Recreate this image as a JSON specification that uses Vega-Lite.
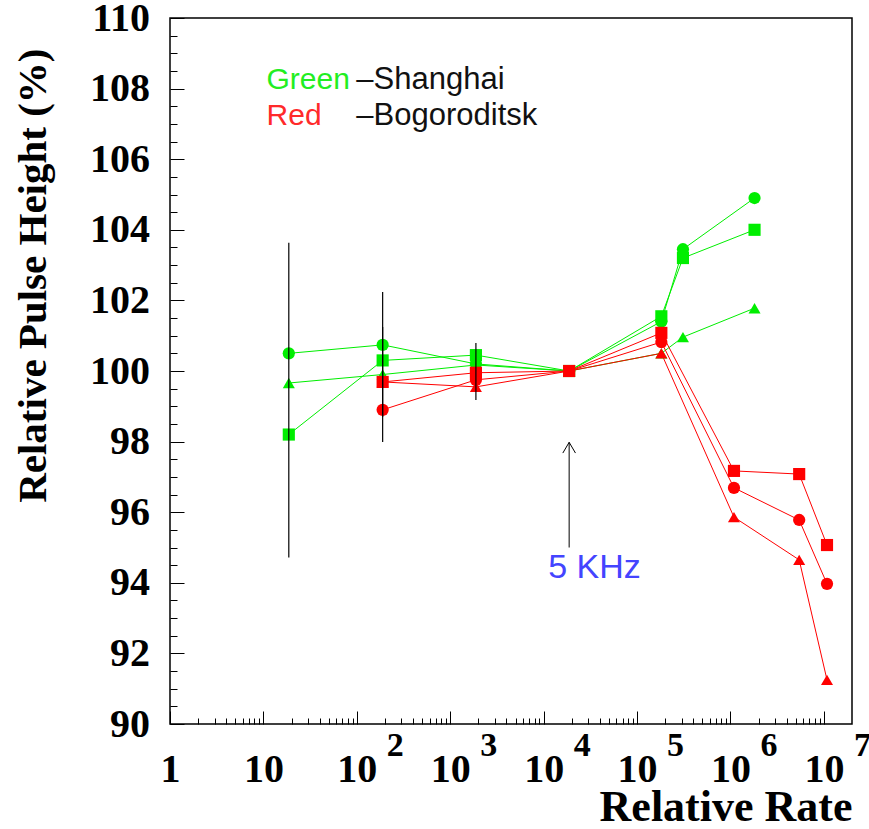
{
  "$schema": "https://vega.github.io/schema/vega-lite/v6.json",
  "width": 682,
  "height": 706,
  "autosize": {"type": "none"},
  "padding": {"left": 170, "top": 18, "right": 17, "bottom": 105},
  "background": "white",
  "config": {
    "view": {"stroke": "black", "strokeWidth": 1.5},
    "axis": {
      "domain": false, "grid": false,
      "labelFont": "Liberation Serif", "labelFontWeight": "bold", "labelFontSize": 40, "labelColor": "black",
      "tickColor": "black", "tickWidth": 1,
      "titleFont": "Liberation Serif", "titleFontWeight": "bold", "titleFontSize": 40, "titleColor": "black",
      "labelFlush": false, "labelOverlap": false, "labelBound": false
    }
  },
  "datasets": {
    "series": [
      {"site": "Shanghai", "marker": "circle", "rate": 18.7, "ph": 100.5},
      {"site": "Shanghai", "marker": "circle", "rate": 189, "ph": 100.74},
      {"site": "Shanghai", "marker": "circle", "rate": 1883, "ph": 100.2},
      {"site": "Shanghai", "marker": "circle", "rate": 18750, "ph": 100},
      {"site": "Shanghai", "marker": "circle", "rate": 182000, "ph": 101.4},
      {"site": "Shanghai", "marker": "circle", "rate": 310000, "ph": 103.45},
      {"site": "Shanghai", "marker": "circle", "rate": 1810000, "ph": 104.9},
      {"site": "Shanghai", "marker": "square", "rate": 18.7, "ph": 98.2},
      {"site": "Shanghai", "marker": "square", "rate": 189, "ph": 100.3},
      {"site": "Shanghai", "marker": "square", "rate": 1883, "ph": 100.45},
      {"site": "Shanghai", "marker": "square", "rate": 18750, "ph": 100},
      {"site": "Shanghai", "marker": "square", "rate": 182000, "ph": 101.55},
      {"site": "Shanghai", "marker": "square", "rate": 310000, "ph": 103.2},
      {"site": "Shanghai", "marker": "square", "rate": 1810000, "ph": 104.0},
      {"site": "Shanghai", "marker": "triangle", "rate": 18.7, "ph": 99.66},
      {"site": "Shanghai", "marker": "triangle", "rate": 189, "ph": 99.9},
      {"site": "Shanghai", "marker": "triangle", "rate": 1883, "ph": 100.17},
      {"site": "Shanghai", "marker": "triangle", "rate": 18750, "ph": 100},
      {"site": "Shanghai", "marker": "triangle", "rate": 182000, "ph": 100.5},
      {"site": "Shanghai", "marker": "triangle", "rate": 310000, "ph": 100.96},
      {"site": "Shanghai", "marker": "triangle", "rate": 1810000, "ph": 101.78},
      {"site": "Bogoroditsk", "marker": "circle", "rate": 189, "ph": 98.9},
      {"site": "Bogoroditsk", "marker": "circle", "rate": 1883, "ph": 99.75},
      {"site": "Bogoroditsk", "marker": "circle", "rate": 18750, "ph": 100},
      {"site": "Bogoroditsk", "marker": "circle", "rate": 182000, "ph": 100.82},
      {"site": "Bogoroditsk", "marker": "circle", "rate": 1090000, "ph": 96.69},
      {"site": "Bogoroditsk", "marker": "circle", "rate": 5440000, "ph": 95.78},
      {"site": "Bogoroditsk", "marker": "circle", "rate": 10800000, "ph": 93.97},
      {"site": "Bogoroditsk", "marker": "square", "rate": 189, "ph": 99.69},
      {"site": "Bogoroditsk", "marker": "square", "rate": 1883, "ph": 99.95},
      {"site": "Bogoroditsk", "marker": "square", "rate": 18750, "ph": 100},
      {"site": "Bogoroditsk", "marker": "square", "rate": 182000, "ph": 101.08},
      {"site": "Bogoroditsk", "marker": "square", "rate": 1090000, "ph": 97.17},
      {"site": "Bogoroditsk", "marker": "square", "rate": 5440000, "ph": 97.08},
      {"site": "Bogoroditsk", "marker": "square", "rate": 10800000, "ph": 95.07},
      {"site": "Bogoroditsk", "marker": "triangle", "rate": 189, "ph": 99.69},
      {"site": "Bogoroditsk", "marker": "triangle", "rate": 1883, "ph": 99.55},
      {"site": "Bogoroditsk", "marker": "triangle", "rate": 18750, "ph": 100},
      {"site": "Bogoroditsk", "marker": "triangle", "rate": 182000, "ph": 100.5},
      {"site": "Bogoroditsk", "marker": "triangle", "rate": 1090000, "ph": 95.86},
      {"site": "Bogoroditsk", "marker": "triangle", "rate": 5440000, "ph": 94.65},
      {"site": "Bogoroditsk", "marker": "triangle", "rate": 10800000, "ph": 91.25}
    ],
    "errbars": [
      {"rate": 18.7, "lo": 94.72, "hi": 103.63},
      {"rate": 189, "lo": 97.99, "hi": 102.24},
      {"rate": 189, "lo": 98.7, "hi": 101.25},
      {"rate": 1883, "lo": 99.18, "hi": 100.79}
    ],
    "arrow": [
      {"rate": 18750, "lo": 95.0, "hi": 97.98}
    ],
    "notes": [
      {"label": "Green", "rate": 10.8, "ph": 107.99, "role": "green"},
      {"label": "–Shanghai", "rate": 98.8, "ph": 107.99, "role": "black"},
      {"label": "Red", "rate": 10.8, "ph": 106.97, "role": "red"},
      {"label": "–Bogoroditsk", "rate": 98.8, "ph": 106.97, "role": "black"},
      {"label": "5 KHz", "rate": 11170, "ph": 94.14, "role": "blue"}
    ]
  },
  "resolve": {"axis": {"x": "independent", "y": "independent"}},
  "layer": [
    {
      "data": {"name": "series"},
      "mark": {"type": "line", "strokeWidth": 1, "clip": false},
      "encoding": {
        "x": {"field": "rate", "type": "quantitative",
          "scale": {"type": "log", "domain": [1, 20000000], "nice": false},
          "axis": {"orient": "bottom", "values": [1, 10, 100, 1000, 10000, 100000, 1000000, 10000000],
            "labelExpr": "datum.value < 5 ? '1' : '10'", "tickSize": -13, "labelPadding": 38.5,
            "labelBaseline": "top", "labelAlign": "center",
            "title": "Relative Rate", "titleFontSize": 44, "titleAnchor": "end", "titleAlign": "right",
            "titleBaseline": "alphabetic", "titleX": 682, "titleY": 96}},
        "y": {"field": "ph", "type": "quantitative",
          "scale": {"domain": [90, 110], "nice": false, "zero": false},
          "axis": {"orient": "left", "values": [90, 92, 94, 96, 98, 100, 102, 104, 106, 108, 110],
            "tickSize": -14, "labelPadding": 34.5, "labelAlign": "right", "labelBaseline": "middle",
            "title": "Relative Pulse Height (%)", "titleFontSize": 41, "titleAngle": 270, "titleAnchor": "end", "titleAlign": "right",
            "titleBaseline": "alphabetic", "titleX": -125, "titleY": 30}},
        "color": {"field": "site", "type": "nominal",
          "scale": {"domain": ["Shanghai", "Bogoroditsk"], "range": ["#00ee00", "#ff0000"]}, "legend": null},
        "detail": {"field": "marker"}
      }
    },
    {
      "data": {"name": "series"},
      "mark": {"type": "point", "filled": true, "opacity": 1},
      "encoding": {
        "x": {"field": "rate", "type": "quantitative",
          "scale": {"type": "log", "domain": [1, 20000000], "nice": false},
          "axis": {"orient": "bottom", "values": [100, 1000, 10000, 100000, 1000000, 10000000],
            "labelExpr": "round(log(datum.value)/LN10)", "ticks": false, "labelPadding": 4,
            "labelBaseline": "top", "labelAlign": "center", "labelOffset": 38, "labelFontSize": 34, "title": null}},
        "y": {"field": "ph", "type": "quantitative",
          "scale": {"domain": [90, 110], "nice": false, "zero": false}, "axis": null},
        "color": {"field": "site", "type": "nominal",
          "scale": {"domain": ["Shanghai", "Bogoroditsk"], "range": ["#00ee00", "#ff0000"]}, "legend": null},
        "shape": {"field": "marker", "type": "nominal",
          "scale": {"domain": ["circle", "square", "triangle"], "range": ["circle", "square", "triangle-up"]}, "legend": null},
        "size": {"field": "marker", "type": "nominal",
          "scale": {"domain": ["circle", "square", "triangle"], "range": [150, 145, 200]}, "legend": null}
      }
    },
    {
      "data": {"name": "errbars"},
      "mark": {"type": "rule", "color": "black", "strokeWidth": 1.2},
      "encoding": {
        "x": {"field": "rate", "type": "quantitative",
          "scale": {"type": "log", "domain": [1, 20000000], "nice": false},
          "axis": {"orient": "bottom", "labels": false, "tickSize": -6, "title": null,
            "values": [2,3,4,5,6,7,8,9,20,30,40,50,60,70,80,90,200,300,400,500,600,700,800,900,2000,3000,4000,5000,6000,7000,8000,9000,20000,30000,40000,50000,60000,70000,80000,90000,200000,300000,400000,500000,600000,700000,800000,900000,2000000,3000000,4000000,5000000,6000000,7000000,8000000,9000000]}},
        "y": {"field": "lo", "type": "quantitative",
          "scale": {"domain": [90, 110], "nice": false, "zero": false},
          "axis": {"orient": "left", "labels": false, "tickSize": -7, "title": null,
            "values": [90.5,91,91.5,92.5,93,93.5,94.5,95,95.5,96.5,97,97.5,98.5,99,99.5,100.5,101,101.5,102.5,103,103.5,104.5,105,105.5,106.5,107,107.5,108.5,109,109.5]}},
        "y2": {"field": "hi"}
      }
    },
    {
      "data": {"name": "arrow"},
      "mark": {"type": "rule", "color": "black", "strokeWidth": 1},
      "encoding": {
        "x": {"field": "rate", "type": "quantitative", "axis": null},
        "y": {"field": "lo", "type": "quantitative", "axis": null},
        "y2": {"field": "hi"}
      }
    },
    {
      "data": {"name": "arrow"},
      "mark": {"type": "point", "shape": "M-1,1.7L0,0L1,1.7", "size": 160, "filled": false, "stroke": "black", "strokeWidth": 1, "opacity": 1},
      "encoding": {
        "x": {"field": "rate", "type": "quantitative", "axis": null},
        "y": {"field": "hi", "type": "quantitative", "axis": null}
      }
    },
    {
      "data": {"name": "notes"},
      "transform": [{"filter": "datum.role == 'green'"}],
      "mark": {"type": "text", "font": "Liberation Sans", "fontSize": 30, "align": "left", "baseline": "alphabetic", "color": "#22ee22"},
      "encoding": {
        "x": {"field": "rate", "type": "quantitative", "axis": null},
        "y": {"field": "ph", "type": "quantitative", "axis": null},
        "text": {"field": "label"}
      }
    },
    {
      "data": {"name": "notes"},
      "transform": [{"filter": "datum.role == 'red'"}],
      "mark": {"type": "text", "font": "Liberation Sans", "fontSize": 30, "align": "left", "baseline": "alphabetic", "color": "#ff2a2a"},
      "encoding": {
        "x": {"field": "rate", "type": "quantitative", "axis": null},
        "y": {"field": "ph", "type": "quantitative", "axis": null},
        "text": {"field": "label"}
      }
    },
    {
      "data": {"name": "notes"},
      "transform": [{"filter": "datum.role == 'black'"}],
      "mark": {"type": "text", "font": "Liberation Sans", "fontSize": 31, "align": "left", "baseline": "alphabetic", "color": "#111111"},
      "encoding": {
        "x": {"field": "rate", "type": "quantitative", "axis": null},
        "y": {"field": "ph", "type": "quantitative", "axis": null},
        "text": {"field": "label"}
      }
    },
    {
      "data": {"name": "notes"},
      "transform": [{"filter": "datum.role == 'blue'"}],
      "mark": {"type": "text", "font": "Liberation Sans", "fontSize": 34, "align": "left", "baseline": "alphabetic", "color": "#4444ff"},
      "encoding": {
        "x": {"field": "rate", "type": "quantitative", "axis": null},
        "y": {"field": "ph", "type": "quantitative", "axis": null},
        "text": {"field": "label"}
      }
    }
  ]
}
